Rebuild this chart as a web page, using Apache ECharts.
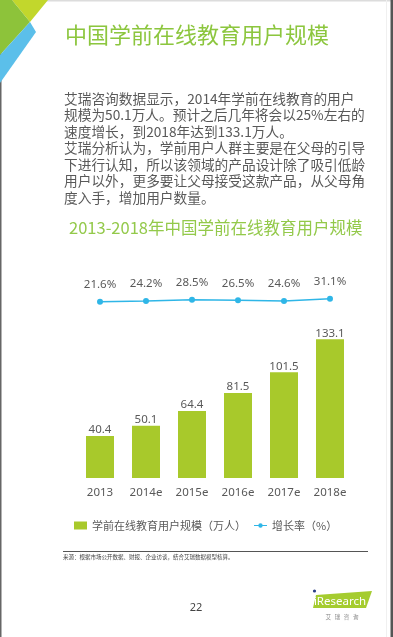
<!DOCTYPE html>
<html>
<head>
<meta charset="utf-8">
<script src="https://cdn.jsdelivr.net/npm/echarts@6/dist/echarts.min.js"></script>
<style>
html,body{margin:0;padding:0;background:#fff;}
#c{width:393px;height:637px;}
</style>
</head>
<body>
<div id="c"></div>
<script>
const categories = ['2013', '2014e', '2015e', '2016e', '2017e', '2018e'];
const userScale = [40.4, 50.1, 64.4, 81.5, 101.5, 133.1];
const growthRate = [21.6, 24.2, 28.5, 26.5, 24.6, 31.1];
const seriesNames = ['学前在线教育用户规模（万人）', '增长率（%）'];
const titleText = '中国学前在线教育用户规模';
const subtitleText = '2013-2018年中国学前在线教育用户规模';
const paragraphLines = [
  '艾瑞咨询数据显示，2014年学前在线教育的用户',
  '规模为50.1万人。预计之后几年将会以25%左右的',
  '速度增长，到2018年达到133.1万人。',
  '艾瑞分析认为，学前用户人群主要是在父母的引导',
  '下进行认知，所以该领域的产品设计除了吸引低龄',
  '用户以外，更多要让父母接受这款产品，从父母角',
  '度入手，增加用户数量。'
];
const sourceText = '来源：根据市场公开数据、财报、企业访谈，结合艾瑞数据模型核算。';
const pageNumber = '22';

const FONT = '"Noto Sans CJK SC", "Noto Sans", sans-serif';
const GREEN = '#8cc63e';
const BAR = '#a8c92b';
const BLUE = '#2fb6e7';
const GRAY = '#595959';

const LINE_ICON = 'path://M0,0L0.01,0L0,0.01Z M0,8L0.01,8L0,7.99Z M0,3.5H13V4.5H0Z M4.3,4A2.2,2.2,0,1,1,8.7,4A2.2,2.2,0,1,1,4.3,4Z';

const chart = echarts.init(document.getElementById('c'));

const graphics = [
  {type: 'rect', shape: {x: 0, y: 0, width: 393, height: 1.5}, style: {fill: '#dcdcdc'}, silent: true},
  {type: 'rect', shape: {x: 0, y: 0, width: 1.5, height: 637}, style: {fill: '#666'}, silent: true},
  {type: 'rect', shape: {x: 386, y: 0, width: 1, height: 637}, style: {fill: '#f0f0f0'}, silent: true},
  {type: 'rect', shape: {x: 390.5, y: 0, width: 2.5, height: 637}, style: {fill: '#555'}, silent: true},
  {type: 'polygon', shape: {points: [[12, 0], [48, 0], [30, 22]]}, style: {fill: '#c2d72c'}, silent: true},
  {type: 'polygon', shape: {points: [[0, 0], [12, 0], [30, 22], [0, 55]]}, style: {fill: '#8dc33a'}, silent: true},
  {type: 'polygon', shape: {points: [[0, 55], [30, 22], [36, 32], [0, 83]]}, style: {fill: '#5bbfea'}, silent: true},
  {type: 'text', x: 65, y: 35, style: {text: titleText, fontSize: 22, fontFamily: FONT, fill: GREEN, verticalAlign: 'middle'}},
  {type: 'text', x: 69, y: 228, style: {text: subtitleText, fontSize: 16.5, fontFamily: FONT, fill: '#93c94a', verticalAlign: 'middle'}},
  {type: 'line', shape: {x1: 63, y1: 551.5, x2: 368, y2: 551.5}, style: {stroke: '#555', lineWidth: 1}, silent: true},
  {type: 'text', x: 63, y: 557, style: {text: sourceText, fontSize: 5.5, fontFamily: FONT, fill: '#444', verticalAlign: 'middle'}},
  {type: 'text', x: 196, y: 608, style: {text: pageNumber, fontSize: 11, fontFamily: '"Noto Sans", sans-serif', fill: '#444', align: 'center', verticalAlign: 'middle'}},
  {type: 'polygon', shape: {points: [[316, 595], [372, 591], [366, 608], [313, 608]]}, style: {fill: '#a5cc2f'}, silent: true},
  {type: 'circle', shape: {cx: 314.5, cy: 591, r: 1.6}, style: {fill: '#2a3d86'}, silent: true},
  {type: 'text', x: 340, y: 601.5, style: {text: 'iResearch', fontSize: 11.5, fontFamily: '"Noto Sans", sans-serif', fill: '#fff', align: 'center', verticalAlign: 'middle'}},
  {type: 'text', x: 342, y: 617, style: {text: '艾   瑞   咨   询', fontSize: 5.5, fontFamily: FONT, fill: '#888', align: 'center', verticalAlign: 'middle'}}
];
paragraphLines.forEach(function (line, i) {
  graphics.push({type: 'text', x: 64, y: 98.3 + i * 16.5, style: {text: line, fontSize: 13.7, fontFamily: FONT, fill: GRAY, verticalAlign: 'middle'}});
});

chart.setOption({
  animation: false,
  backgroundColor: '#fff',
  graphic: graphics,
  legend: {
    left: 74,
    top: 520,
    padding: 0,
    itemWidth: 13,
    itemHeight: 8,
    itemGap: 8,
    textStyle: {fontSize: 11, fontFamily: FONT, color: GRAY},
    data: [
      {name: seriesNames[0], icon: 'rect'},
      {name: seriesNames[1], icon: LINE_ICON, itemStyle: {color: BLUE}}
    ]
  },
  grid: {left: 77, top: 280, width: 276, height: 198, containLabel: false},
  xAxis: {
    type: 'category',
    data: categories,
    axisLine: {show: false},
    axisTick: {show: false},
    axisLabel: {color: GRAY, fontSize: 11.5, fontFamily: '"Noto Sans", sans-serif', margin: 9}
  },
  yAxis: [
    {type: 'value', min: 0, max: 190, show: false, splitLine: {show: false}},
    {type: 'value', min: -530, max: 90, show: false, splitLine: {show: false}}
  ],
  series: [
    {
      name: seriesNames[0],
      type: 'bar',
      data: userScale,
      barWidth: 28,
      itemStyle: {color: BAR},
      label: {show: true, position: 'top', distance: 0, color: GRAY, fontSize: 11.5, fontFamily: '"Noto Sans", sans-serif'}
    },
    {
      name: seriesNames[1],
      type: 'line',
      yAxisIndex: 1,
      data: growthRate,
      symbol: 'circle',
      symbolSize: 6,
      lineStyle: {color: BLUE, width: 1.5},
      itemStyle: {color: BLUE},
      label: {show: true, position: 'top', distance: 8, color: GRAY, fontSize: 11.5, fontFamily: '"Noto Sans", sans-serif', formatter: function (p) { return p.value.toFixed(1) + '%'; }}
    }
  ]
});
</script>
</body>
</html>
